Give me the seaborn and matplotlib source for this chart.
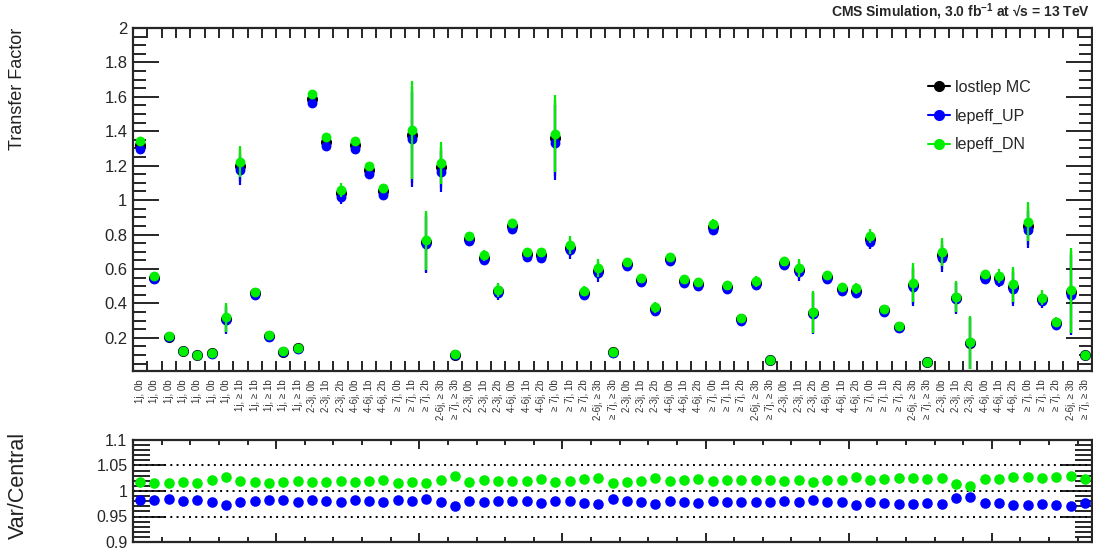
import numpy as np
import pandas as pd
import matplotlib
matplotlib.use("Agg")
import matplotlib.pyplot as plt
from matplotlib.lines import Line2D
from matplotlib.ticker import MultipleLocator, FixedLocator, FormatStrFormatter, NullFormatter
import seaborn as sns

# bin labels: 7 x (1j,0b), 5 x (1j,>=1b), then 5 repeats of the 11 multi-jet bins
group = ["2-3j, 0b", "2-3j, 1b", "2-3j, 2b", "4-6j, 0b", "4-6j, 1b", "4-6j, 2b",
         "≥ 7j, 0b", "≥ 7j, 1b", "≥ 7j, 2b", "2-6j, ≥ 3b", "≥ 7j, ≥ 3b"]
bin_labels = ["1j, 0b"] * 7 + ["1j, ≥ 1b"] * 5 + group * 5

central = [1.32, 0.55, 0.205, 0.123, 0.10, 0.11, 0.31, 1.20, 0.46, 0.21, 0.12, 0.14,
           1.59, 1.34, 1.04, 1.32, 1.175, 1.05, np.nan, 1.38, 0.755, 1.19, 0.10,
           0.775, 0.665, 0.47, 0.85, 0.685, 0.68, 1.36, 0.724, 0.462, 0.59, 0.115,
           0.629, 0.536, 0.367, 0.658, 0.53, 0.511, 0.844, 0.497, 0.307, 0.517, 0.07,
           0.633, 0.594, 0.346, 0.551, 0.482, 0.474, 0.772, 0.361, 0.264, 0.507, 0.06,
           0.68, 0.433, 0.171, 0.555, 0.545, 0.497, 0.85, 0.423, 0.284, 0.464, 0.10]

stat_err = [0.02, 0.01, 0.005, 0.005, 0.005, 0.005, 0.08, 0.09, 0.015, 0.005, 0.005, 0.005,
            0.02, 0.02, 0.04, 0.025, 0.02, 0.02, np.nan, 0.28, 0.17, 0.12, 0.02,
            0.01, 0.03, 0.04, 0.015, 0.01, 0.01, 0.22, 0.05, 0.03, 0.05, 0.005,
            0.01, 0.01, 0.03, 0.01, 0.01, 0.01, 0.03, 0.01, 0.01, 0.03, 0.01,
            0.015, 0.05, 0.12, 0.01, 0.01, 0.03, 0.04, 0.01, 0.01, 0.11, 0.01,
            0.08, 0.09, 0.15, 0.01, 0.04, 0.1, 0.11, 0.04, 0.03, 0.24, 0.01]

ratio_up = [0.982, 0.982, 0.984, 0.981, 0.982, 0.978, 0.973, 0.979, 0.981, 0.983, 0.982,
            0.979, 0.982, 0.981, 0.979, 0.982, 0.980, 0.978, 0.983, 0.980, 0.984, 0.979,
            0.971, 0.981, 0.978, 0.980, 0.980, 0.980, 0.976, 0.981, 0.980, 0.976, 0.974,
            0.984, 0.981, 0.979, 0.975, 0.980, 0.979, 0.977, 0.980, 0.978, 0.978, 0.978,
            0.979, 0.980, 0.979, 0.982, 0.978, 0.978, 0.973, 0.978, 0.976, 0.974, 0.975,
            0.977, 0.975, 0.986, 0.988, 0.977, 0.976, 0.973, 0.973, 0.974, 0.973, 0.971, 0.977]

ratio_dn = [1.017, 1.016, 1.016, 1.018, 1.016, 1.021, 1.027, 1.020, 1.018, 1.016, 1.018,
            1.020, 1.017, 1.018, 1.020, 1.017, 1.020, 1.021, 1.016, 1.018, 1.015, 1.021,
            1.029, 1.018, 1.021, 1.019, 1.019, 1.020, 1.023, 1.018, 1.020, 1.023, 1.026,
            1.015, 1.018, 1.020, 1.025, 1.019, 1.021, 1.023, 1.020, 1.022, 1.022, 1.022,
            1.022, 1.020, 1.021, 1.018, 1.022, 1.022, 1.027, 1.022, 1.024, 1.026, 1.026,
            1.024, 1.026, 1.014, 1.010, 1.023, 1.024, 1.028, 1.028, 1.026, 1.028, 1.029, 1.024]

sns.set_theme(style="ticks")
plt.rcParams["font.family"] = ["Liberation Sans", "DejaVu Sans"]
plt.rcParams["mathtext.default"] = "regular"

nbins = len(bin_labels)
x = np.arange(nbins) + 0.5
central = np.array(central)
stat_err = np.array(stat_err)
up = central * np.array(ratio_up)
dn = central * np.array(ratio_dn)

df = pd.DataFrame({"bin": x, "lostlep MC": central, "lepeff_UP": up, "lepeff_DN": dn})

BLUE = "#0000ff"
GREEN = "#00ee00"

fig = plt.figure(figsize=(10.93, 5.53), dpi=100)
ax = fig.add_axes([133 / 1093, 1 - 371 / 553, 959 / 1093, 343 / 553])
rax = fig.add_axes([133 / 1093, 1 - 542 / 553, 959 / 1093, 102 / 553])

series = [("lostlep MC", "black", 64), ("lepeff_UP", BLUE, 50), ("lepeff_DN", GREEN, 50)]
for i, (name, color, size) in enumerate(series):
    scale = df[name] / df["lostlep MC"]
    ax.errorbar(df["bin"], df[name], yerr=stat_err * scale, fmt="none",
                ecolor=color, elinewidth=1.6, capsize=0, zorder=2 + 2 * i)
    sns.scatterplot(data=df, x="bin", y=name, color=color, s=size, linewidth=0,
                    ax=ax, zorder=3 + 2 * i, legend=False)

ax.set_xlim(0, nbins)
ax.set_ylim(0.007, 2.0)
ax.set_xlabel("")
ax.set_ylabel("")
ax.xaxis.set_major_locator(FixedLocator(x))
ax.set_xticklabels(bin_labels, rotation=90, fontsize=7, color="#333333")
ax.xaxis.set_minor_locator(FixedLocator(np.arange(1, nbins)))
ax.tick_params(axis="x", which="major", length=0, pad=6)
ax.tick_params(axis="x", which="minor", direction="in", length=7.5, width=1.4,
               top=True, bottom=True)
ax.yaxis.set_major_locator(MultipleLocator(0.2))
ax.yaxis.set_minor_locator(MultipleLocator(0.05))
ax.yaxis.set_major_formatter(FormatStrFormatter("%g"))
ax.tick_params(axis="y", which="major", direction="in", length=19, width=1.4,
               left=True, right=True, labelsize=12, pad=4)
ax.tick_params(axis="y", which="minor", direction="in", length=9.5, width=1.4,
               left=True, right=True)
for sp in ax.spines.values():
    sp.set_linewidth(1.6)
    sp.set_visible(True)

handles = [Line2D([], [], color=c, marker="o", markersize=7, lw=1.5) for _, c, _ in series]
ax.legend(handles, [n for n, _, _ in series], loc="upper left",
          bbox_to_anchor=(920 / 1093, 1 - 72 / 553), bbox_transform=fig.transFigure,
          frameon=False, fontsize=11.5, borderpad=0, handlelength=1.4,
          handletextpad=0.3, labelspacing=0.85)

# ratio panel
for yv in (0.95, 1.0, 1.05):
    rax.axhline(yv, color="black", lw=1.4, ls=(0, (1, 2.2)), zorder=1)
rdf = pd.DataFrame({"bin": x, "up": ratio_up, "dn": ratio_dn})
sns.scatterplot(data=rdf, x="bin", y="up", color=BLUE, s=58, linewidth=0, ax=rax,
                zorder=3, legend=False)
sns.scatterplot(data=rdf, x="bin", y="dn", color=GREEN, s=58, linewidth=0, ax=rax,
                zorder=3, legend=False)
rax.set_xlim(0, nbins)
rax.set_ylim(0.9, 1.1)
rax.set_xlabel("")
rax.set_ylabel("")
rax.xaxis.set_major_locator(MultipleLocator(10))
rax.xaxis.set_minor_locator(MultipleLocator(2))
rax.xaxis.set_major_formatter(NullFormatter())
rax.tick_params(axis="x", which="major", direction="in", length=6.5, width=1.4,
                top=True, bottom=True)
rax.tick_params(axis="x", which="minor", direction="in", length=3.5, width=1.4,
                top=True, bottom=True)
rax.yaxis.set_major_locator(MultipleLocator(0.05))
rax.yaxis.set_minor_locator(MultipleLocator(0.01))
rax.yaxis.set_major_formatter(FormatStrFormatter("%g"))
rax.tick_params(axis="y", which="major", direction="in", length=23, width=1.4,
                left=True, right=True, labelsize=11.5, pad=4)
rax.tick_params(axis="y", which="minor", direction="in", length=12, width=1.4,
                left=True, right=True)
for sp in rax.spines.values():
    sp.set_linewidth(1.6)
    sp.set_visible(True)

fig.text(1090 / 1093, 1 - 17 / 553, "CMS Simulation, 3.0 fb$^{-1}$ at √s = 13 TeV",
         ha="right", va="baseline", fontsize=10, fontweight="bold")
fig.text(18 / 1093, 1 - 28 / 553, "Transfer Factor", rotation=90, ha="center",
         va="top", fontsize=13, color="#222222")
fig.text(18 / 1093, 1 - 432 / 553, "Var/Central", rotation=90, ha="center",
         va="top", fontsize=15.5, color="#222222")

fig.savefig("out.png", dpi=100)
